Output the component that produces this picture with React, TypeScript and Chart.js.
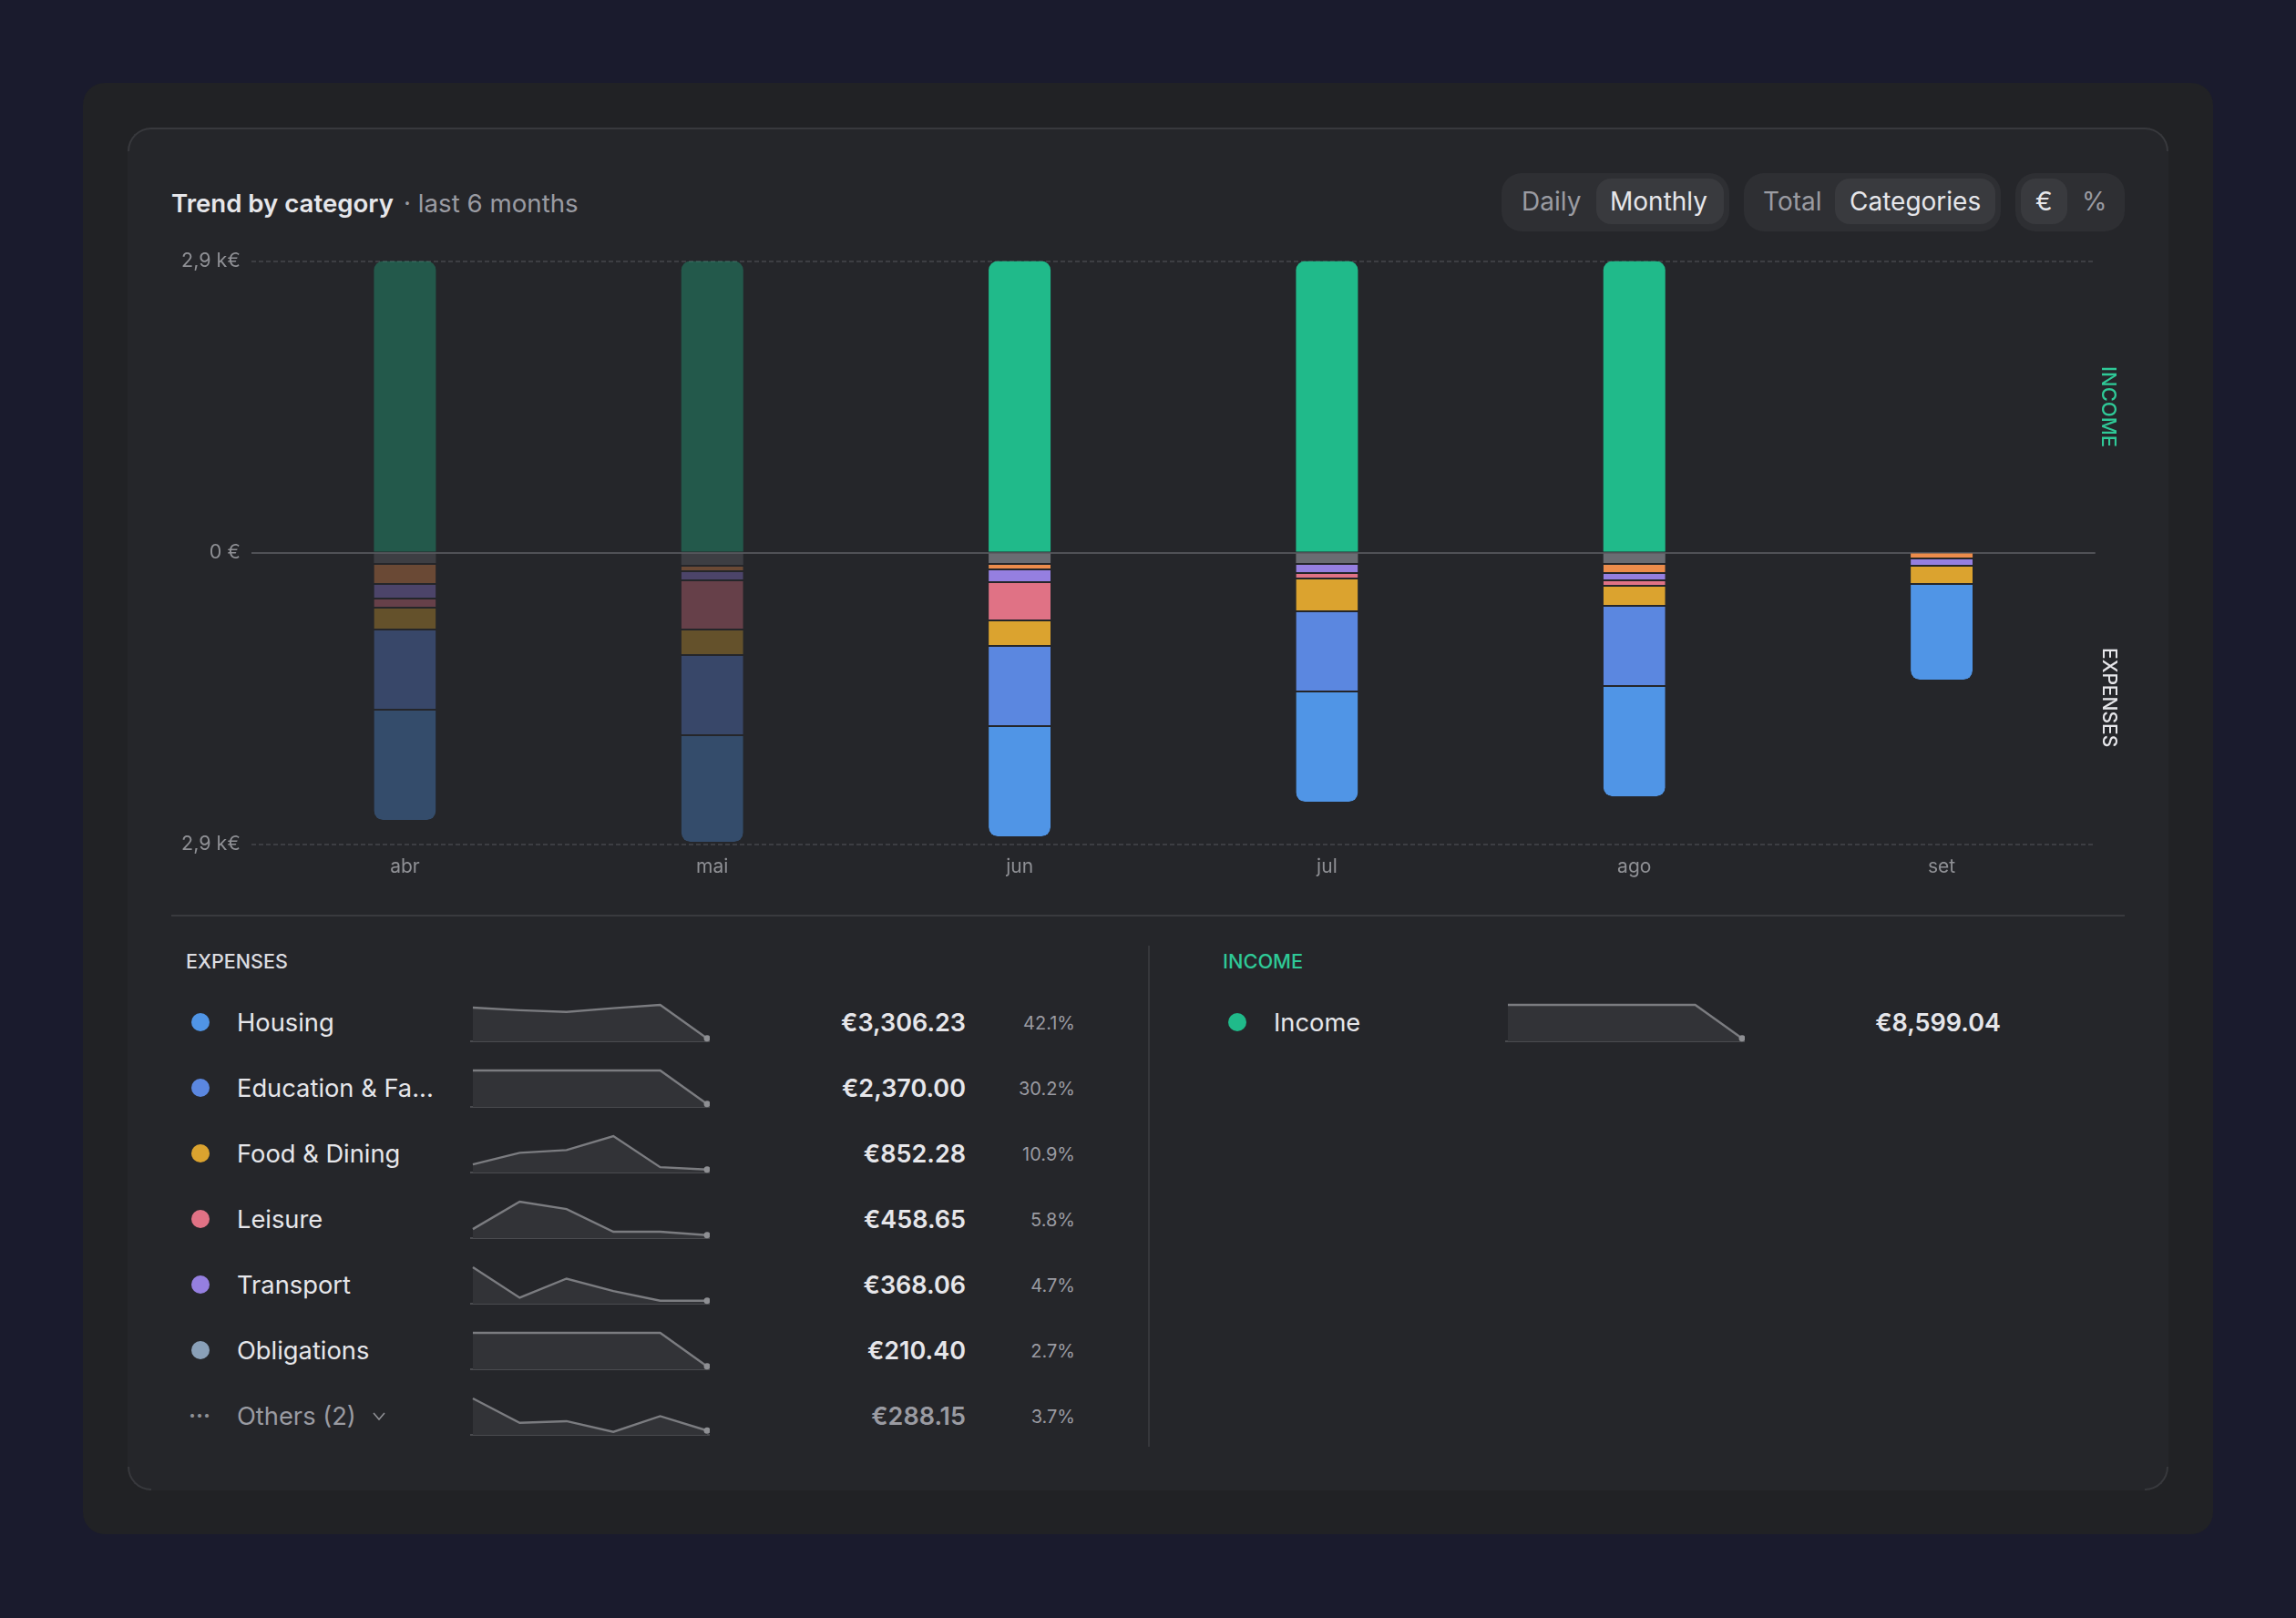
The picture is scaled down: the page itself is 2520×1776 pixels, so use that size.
import { useEffect, useRef } from "react";
import type { CSSProperties } from "react";
import Chart from "chart.js/auto";

const FONT = "Inter";

const months = ["abr", "mai", "jun", "jul", "ago", "set"];
const activeMonths = ["jun", "jul", "ago"];
const axisMax = 2866.35;
const yTicks = [-2866.35, 0, 2866.35];
const yTickLabels = ["2,9 k€", "0 €", "2,9 k€"];

const incomeBars = [2866.35, 2866.35, 2866.35, 2866.35, 2866.35, 0];
const otherBars = [102, 119, 102, 102, 102, 0];
const orangeBars = [197, 54, 54, 0, 90, 48];
const transportBars = [143, 90, 125, 90, 72, 72];
const leisureBars = [90, 484, 376, 54, 54, 0];
const foodBars = [215, 251, 251, 322, 197, 179];
const educationBars = [788, 788, 788, 788, 788, 0];
const housingBars = [1093, 1057, 1093, 1093, 1093, 950];

const legendNames = ["Housing", "Education & Fa...", "Food & Dining", "Leisure", "Transport", "Obligations"];
const legendAmounts = ["€3,306.23", "€2,370.00", "€852.28", "€458.65", "€368.06", "€210.40"];
const legendShares = ["42.1%", "30.2%", "10.9%", "5.8%", "4.7%", "2.7%"];
const legendColors = ["#5095e6", "#5b87e0", "#dba32f", "#e07285", "#957fe0", "#8aa0b8"];

const sparkHousing = [92, 84, 79, 90, 100, 0];
const sparkEducation = [100, 100, 100, 100, 100, 0];
const sparkFood = [15, 50, 58, 100, 7, 0];
const sparkLeisure = [18, 100, 78, 10, 10, 0];
const sparkTransport = [100, 9, 66, 29, 0, 0];
const sparkObligations = [100, 100, 100, 100, 100, 0];
const sparkOthers = [100, 27, 32, 0, 47, 4];
const sparkIncome = [100, 100, 100, 100, 100, 0];
const sparkRows = [sparkHousing, sparkEducation, sparkFood, sparkLeisure, sparkTransport, sparkObligations];

const CARD = "#25262a";
const MUTED = "#9a9ba2";
const BRIGHT = "#e6e6ea";

function dim(hex: string) {
  return hex + "59";
}

const TrendChart = () => {
  const canvasRef = useRef<HTMLCanvasElement>(null);

  useEffect(() => {
    if (!canvasRef.current) return;

    const stackOrder = [otherBars, orangeBars, transportBars, leisureBars, foodBars, educationBars, housingBars];

    const makeSet = (data: number[], color: string, stackPos: number, extra = {}) => ({
      data,
      backgroundColor: months.map((m) => (activeMonths.includes(m) || m === "set" ? color : dim(color))),
      borderColor: CARD,
      // gap between the segments, the first one in a bar sits on the zero line
      borderWidth: (ctx: any) => {
        const first = stackOrder.findIndex((s) => s[ctx.dataIndex] > 0);
        return { top: stackPos > first ? 2 : 0, right: 0, bottom: 0, left: 0 };
      },
      borderSkipped: false,
      inflateAmount: 0,
      barThickness: 68,
      stack: "flow",
      ...extra,
    });

    const neg = (arr: number[]) => arr.map((v) => -v);

    const chart = new Chart(canvasRef.current, {
      type: "bar",
      data: {
        labels: months,
        datasets: [
          {
            data: incomeBars,
            backgroundColor: months.map((m) => (activeMonths.includes(m) ? "#20ba8a" : dim("#20ba8a"))),
            borderWidth: 0,
            borderRadius: { topLeft: 10, topRight: 10, bottomLeft: 0, bottomRight: 0 },
            borderSkipped: false,
            inflateAmount: 0,
            barThickness: 68,
            stack: "flow",
          },
          makeSet(neg(otherBars), "#6a6c72", 0),
          makeSet(neg(orangeBars), "#ec8c4b", 1),
          makeSet(neg(transportBars), "#957fe0", 2),
          makeSet(neg(leisureBars), "#e07285", 3),
          makeSet(neg(foodBars), "#dba32f", 4),
          makeSet(neg(educationBars), "#5b87e0", 5),
          makeSet(neg(housingBars), "#5095e6", 6, {
            borderRadius: { topLeft: 0, topRight: 0, bottomLeft: 10, bottomRight: 10 },
          }),
        ],
      },
      options: {
        animation: false,
        responsive: false,
        layout: { padding: { top: 16.5, right: 10.25, left: 0, bottom: 0 } },
        plugins: { legend: { display: false }, tooltip: { enabled: false } },
        scales: {
          x: {
            stacked: true,
            grid: { display: false, drawTicks: false },
            border: { display: false },
            afterFit: (scale: any) => {
              scale.height = 48.3;
            },
            ticks: {
              color: "#8f9095",
              padding: 12,
              maxRotation: 0,
              font: { family: FONT, size: 21 },
            },
          },
          y: {
            stacked: true,
            min: -axisMax,
            max: axisMax,
            afterBuildTicks: (scale: any) => {
              scale.ticks = yTicks.map((value) => ({ value }));
            },
            afterFit: (scale: any) => {
              scale.width = 99.75;
              // the plot edges are set from the layout padding, not the tick labels
              scale.paddingTop = 0;
              scale.paddingBottom = 0;
            },
            grid: {
              drawTicks: false,
              lineWidth: 2,
              color: (ctx: any) => (ctx.tick && ctx.tick.value === 0 ? "transparent" : "#3d3e43"),
            },
            border: { display: false, dash: [5, 3] },
            ticks: {
              color: "#8f9095",
              padding: 12,
              font: { family: FONT, size: 21.5 },
              callback: (value: any) => yTickLabels[yTicks.indexOf(value)],
            },
          },
          zero: {
            axis: "y",
            position: "left",
            min: -axisMax,
            max: axisMax,
            afterBuildTicks: (scale: any) => {
              scale.ticks = [{ value: 0 }];
            },
            afterFit: (scale: any) => {
              scale.width = 0;
            },
            grid: { drawTicks: false, lineWidth: 2, color: "#505156" },
            border: { display: false },
            ticks: { display: false },
          },
        } as any,
      },
    });

    return () => chart.destroy();
  }, []);

  return (
    <canvas
      ref={canvasRef}
      width={2134}
      height={705}
      style={{ position: "absolute", left: 176, top: 270, width: 2134, height: 705 }}
    />
  );
};

const Sparkline = ({ values, left, baseline }: { values: number[]; left: number; baseline: number }) => {
  const canvasRef = useRef<HTMLCanvasElement>(null);

  useEffect(() => {
    if (!canvasRef.current) return;

    const chart = new Chart(canvasRef.current, {
      type: "line",
      data: {
        datasets: [
          {
            data: values.map((v, i) => ({ x: i, y: v })),
            borderColor: "#7b7c80",
            borderWidth: 2.4,
            backgroundColor: "#323337",
            fill: "start",
            tension: 0,
            clip: false,
            pointRadius: (ctx: any) => (ctx.dataIndex === values.length - 1 ? 3.5 : 0),
            pointBackgroundColor: "#8e8f93",
            pointBorderWidth: 0,
          } as any,
        ],
      },
      options: {
        animation: false,
        responsive: false,
        layout: { autoPadding: false, padding: { top: 4, bottom: 2, left: 0, right: 0 } },
        plugins: { legend: { display: false }, tooltip: { enabled: false } },
        scales: {
          x: {
            type: "linear",
            bounds: "data",
            min: -0.058,
            max: 5.058,
            ticks: { display: false },
            grid: { display: false, drawTicks: false },
            border: { display: true, color: "#4a4b4f", width: 2 },
          },
          y: {
            bounds: "data",
            min: -9,
            max: 100,
            display: false,
          },
        },
      },
    });

    return () => chart.destroy();
  }, [values]);

  return (
    <canvas
      ref={canvasRef}
      width={263}
      height={46}
      style={{ position: "absolute", left, top: baseline - 44, width: 263, height: 46 }}
    />
  );
};

const Label = ({
  x,
  right,
  y,
  size,
  color,
  weight = 400,
  children,
}: {
  x?: number;
  right?: number;
  y: number;
  size: number;
  color: string;
  weight?: number;
  children: any;
}) => {
  const style: CSSProperties = {
    position: "absolute",
    top: y - 30,
    height: 60,
    lineHeight: "60px",
    fontSize: size,
    color,
    fontWeight: weight,
    whiteSpace: "nowrap",
  };
  if (x !== undefined) style.left = x;
  if (right !== undefined) style.right = 2520 - right;
  return <div style={style}>{children}</div>;
};

const Box = ({ l, t, r, b, color, radius = 0 }: { l: number; t: number; r: number; b: number; color: string; radius?: number }) => (
  <div
    style={{
      position: "absolute",
      left: l,
      top: t,
      width: r - l,
      height: b - t,
      background: color,
      borderRadius: radius,
    }}
  />
);

const SideLabel = ({ y, size, color, children }: { y: number; size: number; color: string; children: string }) => (
  <div
    style={{
      position: "absolute",
      left: 2300,
      top: y - 60,
      width: 30,
      height: 120,
      writingMode: "vertical-rl",
      textAlign: "center",
      lineHeight: "30px",
      fontSize: size,
      fontWeight: 500,
      color,
    }}
  >
    {children}
  </div>
);

// lighter arc on a corner of the card
const Corner = ({ h, v }: { h: "left" | "right"; v: "top" | "bottom" }) => {
  const edge = "2px solid #38393d";
  const style: CSSProperties = { position: "absolute", width: 26, height: 26, boxSizing: "border-box" };
  style[h] = 140;
  style[v] = 140;
  if (h === "left") style.borderLeft = edge;
  else style.borderRight = edge;
  if (v === "top") style.borderTop = edge;
  else style.borderBottom = edge;
  const radiusKey = (v + (h === "left" ? "Left" : "Right") + "Radius").replace("top", "borderTop").replace("bottom", "borderBottom");
  (style as any)[radiusKey] = 26;
  return <div style={style} />;
};

const rowY = [1122.5, 1194.5, 1266.5, 1338.5, 1410.5, 1482.5];
const rowBase = [1143, 1215, 1287, 1359, 1431, 1503];

export default function App() {
  return (
    <div
      style={{
        position: "absolute",
        left: 0,
        top: 0,
        width: 2520,
        height: 1776,
        overflow: "hidden",
        background: "#1a1b2d",
        fontFamily: FONT,
      }}
    >
      <Box l={91} t={91} r={2429} b={1684} color="#212225" radius={24} />
      <Box l={140} t={140} r={2380} b={1636} color={CARD} radius={26} />
      <Box l={166} t={140} r={2354} b={142} color="#38393d" />
      <Corner h="left" v="top" />
      <Corner h="right" v="top" />
      <Corner h="left" v="bottom" />
      <Corner h="right" v="bottom" />

      <Label x={188} y={223} size={27.6} weight={600} color={BRIGHT}>Trend by category</Label>
      <Label x={443} y={223} size={27.7} color={MUTED}>· last 6 months</Label>

      <Box l={1648} t={190} r={1898} b={254} color="#2e2f33" radius={22} />
      <Box l={1752} t={196} r={1892} b={246} color="#393a3e" radius={16} />
      <Label x={1670} y={221} size={28} color={MUTED}>Daily</Label>
      <Label x={1767} y={221} size={28} color={BRIGHT}>Monthly</Label>

      <Box l={1914} t={190} r={2196} b={254} color="#2e2f33" radius={22} />
      <Box l={2014} t={196} r={2190} b={246} color="#393a3e" radius={16} />
      <Label x={1935} y={221} size={28} color={MUTED}>Total</Label>
      <Label x={2030} y={221} size={28} color={BRIGHT}>Categories</Label>

      <Box l={2212} t={190} r={2332} b={254} color="#2e2f33" radius={22} />
      <Box l={2218} t={196} r={2269} b={246} color="#393a3e" radius={16} />
      <Label x={2234} y={221} size={28} color={BRIGHT}>€</Label>
      <Label x={2285} y={221} size={28} color={MUTED}>%</Label>

      <TrendChart />
      <SideLabel y={446} size={22} color="#2fc997">INCOME</SideLabel>
      <SideLabel y={766} size={21} color={BRIGHT}>EXPENSES</SideLabel>

      <Box l={188} t={1004} r={2332} b={1006} color="#393a3e" />
      <Box l={1260} t={1038} r={1262} b={1588} color="#36373b" />

      <Label x={204} y={1054.5} size={21.5} weight={500} color="#dcdce0">EXPENSES</Label>
      <Label x={1342} y={1054.5} size={21.8} weight={500} color="#2fc997">INCOME</Label>

      {legendNames.map((name, i) => (
        <div key={name}>
          <Box l={210} t={rowY[i] - 10.5} r={230} b={rowY[i] + 9.5} color={legendColors[i]} radius={10} />
          <Label x={260} y={rowY[i]} size={27.3} color={BRIGHT}>{name}</Label>
          <Sparkline values={sparkRows[i]} left={516} baseline={rowBase[i]} />
          <Label right={1060} y={rowY[i]} size={27} weight={600} color={BRIGHT}>{legendAmounts[i]}</Label>
          <Label right={1180} y={rowY[i]} size={20} color={MUTED}>{legendShares[i]}</Label>
        </div>
      ))}

      <Label x={207} y={1554} size={24} weight={700} color="#8f9095">···</Label>
      <Label x={260} y={1554.5} size={27.3} color={MUTED}>Others (2)</Label>
      <svg style={{ position: "absolute", left: 408, top: 1549 }} width={16} height={12} viewBox="0 0 16 12">
        <path d="M2 2 L8 9 L14 2" fill="none" stroke="#8f9095" strokeWidth={1.6} />
      </svg>
      <Sparkline values={sparkOthers} left={516} baseline={1575} />
      <Label right={1060} y={1554.5} size={27} weight={600} color={MUTED}>€288.15</Label>
      <Label right={1180} y={1554.5} size={20} color={MUTED}>3.7%</Label>

      <Box l={1348} t={1112} r={1368} b={1132} color="#20ba8a" radius={10} />
      <Label x={1398} y={1122.5} size={27.3} color={BRIGHT}>Income</Label>
      <Sparkline values={sparkIncome} left={1652} baseline={1143} />
      <Label right={2196} y={1122.5} size={27} weight={600} color={BRIGHT}>€8,599.04</Label>
    </div>
  );
}
